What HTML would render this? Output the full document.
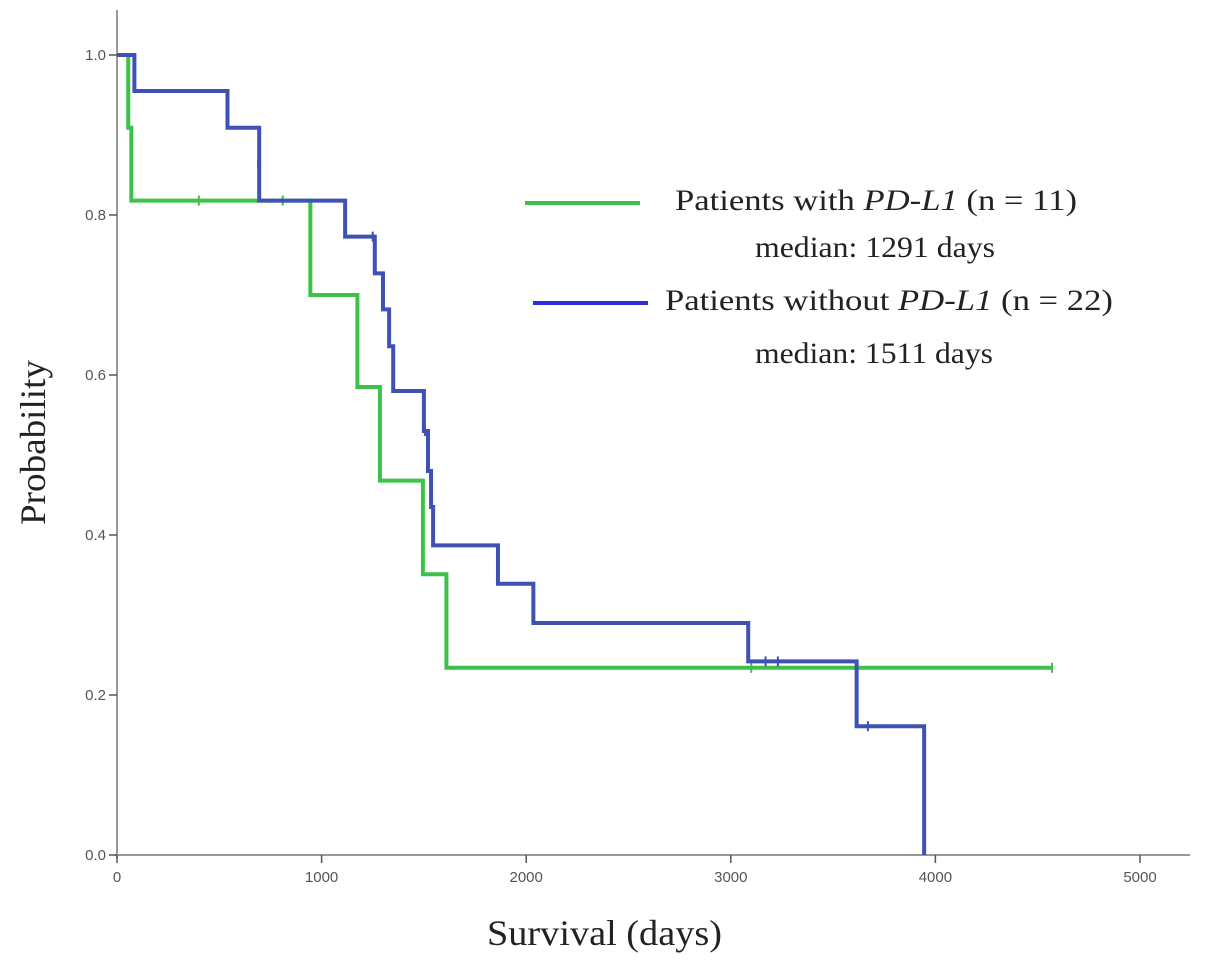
<!DOCTYPE html>
<html><head><meta charset="utf-8"><style>
body{margin:0;background:#fff;}
svg{display:block;}
</style></head><body>
<svg id="c" width="1205" height="965"></svg>
<script>
const xTicks=[0,1000,2000,3000,4000,5000];
const yTicks=[0,0.2,0.4,0.6,0.8,1.0];
const greenT=[0,55,70,945,1175,1285,1495,1610,4570];
const greenS=[1,0.909,0.818,0.70,0.585,0.468,0.351,0.234,0.234];
const greenCens=[[400,0.818],[810,0.818],[3100,0.234],[4570,0.234]];
const blueT=[0,85,540,695,1115,1260,1300,1330,1350,1500,1520,1535,1545,1862,2035,3085,3615,3945];
const blueS=[1,0.955,0.909,0.818,0.773,0.727,0.682,0.636,0.58,0.53,0.48,0.435,0.387,0.339,0.29,0.242,0.161,0];
const blueCens=[[690,0.864],[1250,0.773],[1505,0.53],[3170,0.242],[3230,0.242],[3670,0.161]];
const NS="http://www.w3.org/2000/svg";
const svg=document.getElementById('c');
const X=d=>117+d*0.2046, Y=p=>855-p*800;
function el(t,a,p){const e=document.createElementNS(NS,t);for(const k in a)e.setAttribute(k,a[k]);(p||svg).appendChild(e);return e;}
let ax=el('line',{x1:117,y1:10,x2:117,y2:858,stroke:'#999','stroke-width':2});


let bx=el('line',{x1:115,y1:855,x2:1190,y2:855,stroke:'#999','stroke-width':2});


xTicks.forEach(v=>{
 el('line',{x1:X(v),y1:855,x2:X(v),y2:863,stroke:'#555','stroke-width':1.5});
 const t=el('text',{x:X(v),y:882,'text-anchor':'middle','font-family':'Liberation Sans, sans-serif','font-size':15,fill:'#555'});
 t.textContent=v;
 
 
});
yTicks.forEach(v=>{
 el('line',{x1:109,y1:Y(v),x2:117,y2:Y(v),stroke:'#555','stroke-width':1.5});
 const t=el('text',{x:106,y:Y(v)+5,'text-anchor':'end','font-family':'Liberation Sans, sans-serif','font-size':15,fill:'#555'});
 t.textContent=v.toFixed(1);
 
 
});
function curve(T,S,col,name,cens){
 let d='M'+X(T[0])+' '+Y(S[0]);
 for(let i=1;i<T.length;i++){d+=' H'+X(T[i])+' V'+Y(S[i]);}
 const p=el('path',{d:d,fill:'none',stroke:col,'stroke-width':4});
 
 
 cens.forEach(c=>{const m=el('line',{x1:X(c[0]),y1:Y(c[1])-5,x2:X(c[0]),y2:Y(c[1])+5,stroke:col,'stroke-width':2});
  
  });
}
curve(greenT,greenS,'#3cc24a','curve-with-pdl1',greenCens);
curve(blueT,blueS,'#3f51b5','curve-without-pdl1',blueCens);
</script>
<svg width="1205" height="965" style="position:absolute;left:0;top:0">
<g font-family="Liberation Serif, serif" font-size="30" fill="#222">
<text x="487" y="945" textLength="235" lengthAdjust="spacingAndGlyphs" font-size="36">Survival (days)</text>
<text transform="translate(45 525) rotate(-90)" textLength="165" lengthAdjust="spacingAndGlyphs" font-size="36">Probability</text>
<line x1="525" y1="203" x2="640" y2="203" stroke="#3cc24a" stroke-width="4"/>
<text x="675" y="210" textLength="402" lengthAdjust="spacingAndGlyphs">Patients with <tspan font-style="italic">PD-L1</tspan> (n = 11)</text>
<text x="755" y="257" textLength="240" lengthAdjust="spacingAndGlyphs">median: 1291 days</text>
<line x1="533" y1="303" x2="648" y2="303" stroke="#2d2de0" stroke-width="4"/>
<text x="665" y="310" textLength="448" lengthAdjust="spacingAndGlyphs">Patients without <tspan font-style="italic">PD-L1</tspan> (n = 22)</text>
<text x="755" y="363" textLength="238" lengthAdjust="spacingAndGlyphs">median: 1511 days</text>
</g></svg>
</body></html>
